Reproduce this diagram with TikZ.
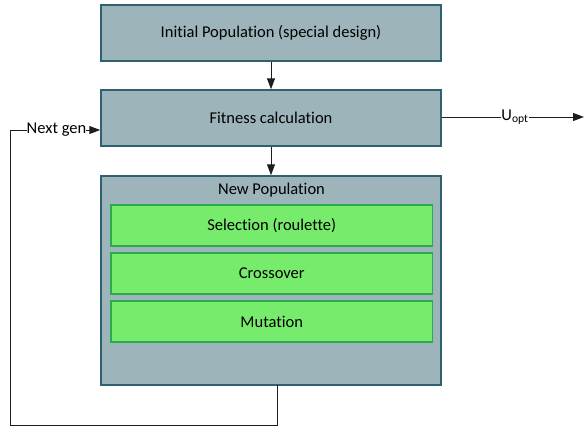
\documentclass[tikz,border=0pt]{standalone}
\usepackage{fontspec}
\setmainfont[Ligatures=NoCommon]{Carlito}
\usetikzlibrary{arrows.meta}
\definecolor{boxfill}{RGB}{156,180,186}
\definecolor{boxline}{RGB}{46,98,114}
\definecolor{grfill}{RGB}{119,236,108}
\definecolor{grline}{RGB}{44,170,78}
\definecolor{conn}{RGB}{30,30,30}
\begin{document}
\begin{tikzpicture}[x=1pt,y=-1pt,
  font=\fontsize{16.5}{19}\selectfont,
  mainbox/.style={draw=boxline,fill=boxfill,line width=1.5pt,minimum width=340pt,inner sep=0pt},
  subbox/.style={draw=grline,fill=grfill,line width=1.2pt,minimum width=321.5pt,minimum height=41pt,inner sep=0pt},
  conline/.style={draw=conn,line width=1pt},
  arr/.style={conline,-{Triangle[length=11pt,width=8pt]}},
  lbl/.style={inner sep=0pt,outer sep=0pt}]
\useasboundingbox (0,0) rectangle (584,429);
\node[mainbox,minimum height=56pt] (init) at (271,33) {Initial Population (special design)};
\node[mainbox,minimum height=56pt] (fit) at (271,118) {Fitness calculation};
\node[mainbox,minimum height=209pt] (newpop) at (271,280.5) {};
\node[lbl] (nptitle) at (271.5,190.5) {New Population};
\node[subbox] (sel) at (271.75,225.5) {Selection (roulette)};
\node[subbox] (cross) at (271.75,273.5) {Crossover};
\node[subbox] (mut) at (271.75,321.5) {Mutation};
\draw[arr] (init) -- (fit);
\draw[arr] (fit) -- (newpop);
% output
\node[lbl] (uopt) at (515,117) {U\textsubscript{opt}};
\coordinate (outend) at (584,117);
\draw[conline] (fit.east |- uopt) -- (uopt.west);
\draw[arr] (uopt.east) -- (outend);
% feedback
\coordinate (fbstart) at (277.7,385);
\coordinate (fb1) at (277.7,425);
\coordinate (fb2) at (10,425);
\coordinate (fb3) at (10,130);
\node[lbl] (nextgen) at (56.5,130) {Next gen};
\draw[conline] (fbstart) -- (fb1) -- (fb2) -- (fb3) -- (nextgen.west);
\draw[arr] (nextgen.east) -- (fit.west |- nextgen);
\end{tikzpicture}
\end{document}
